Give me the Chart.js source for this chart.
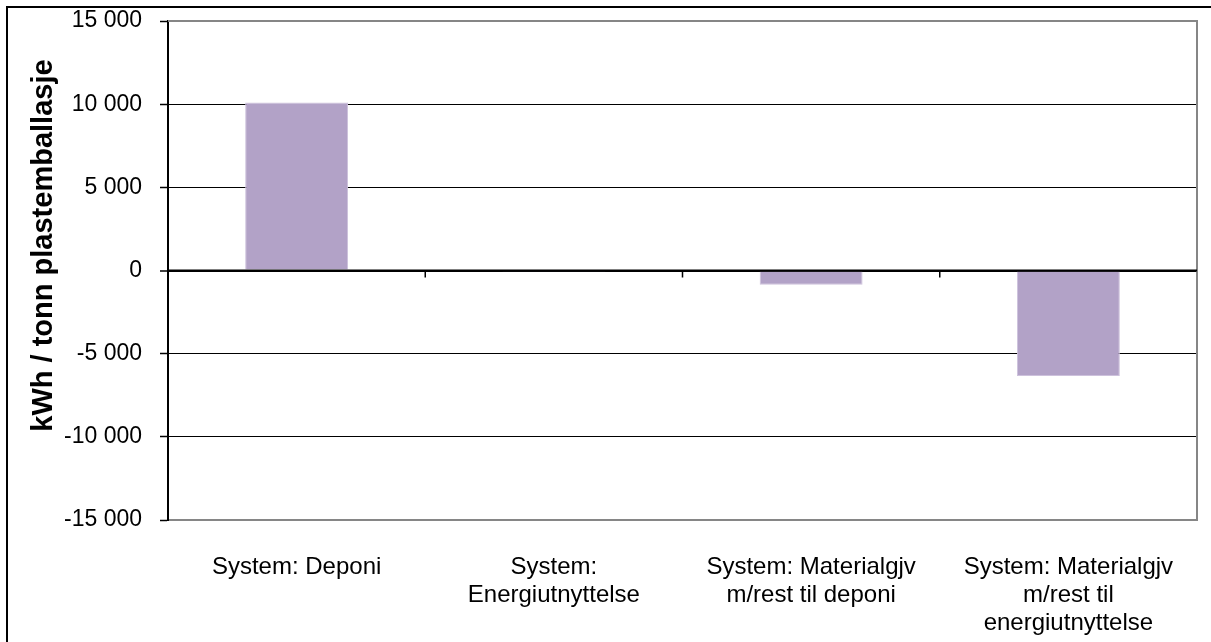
<!DOCTYPE html>
<html lang="no">
<head>
<meta charset="utf-8">
<title>Energibruk per tonn plastemballasje</title>
<script src="https://cdn.jsdelivr.net/npm/chart.js@4/dist/chart.umd.min.js"></script>
<style>
  html, body { margin: 0; padding: 0; background: #fff; overflow: hidden; }
  canvas { display: block; }
</style>
</head>
<body>
<canvas id="energyChart" width="1211" height="642"></canvas>
<script>
// Systemer og netto energi (kWh per tonn plastemballasje)
const systems = [
  ["System: Deponi"],
  ["System:", "Energiutnyttelse"],
  ["System: Materialgjv", "m/rest til deponi"],
  ["System: Materialgjv", "m/rest til", "energiutnyttelse"],
]
const energyValues = [10100, -50, -850, -6350]
const yTicks = [-15000, -10000, -5000, 0, 5000, 10000, 15000]
const yTitle = "kWh / tonn plastemballasje"

const axisFont = "'Liberation Sans', Arial, sans-serif"

function formatThousands(v) {
  const s = Math.abs(v).toString().replace(/\B(?=(\d{3})+(?!\d))/g, " ")
  return v < 0 ? "-" + s : s
}

// Outer frame, plot border, zero line, category ticks on the zero line and y title
const framePlugin = {
  id: "frame",
  beforeDatasetsDraw(chart) {
    const { ctx, chartArea } = chart
    ctx.save()
    ctx.strokeStyle = "#868686"
    ctx.lineWidth = 2
    ctx.beginPath()
    ctx.moveTo(chartArea.left, chartArea.top)
    ctx.lineTo(chartArea.right, chartArea.top)
    ctx.lineTo(chartArea.right, chartArea.bottom)
    ctx.stroke()
    ctx.restore()
  },
  afterDatasetsDraw(chart) {
    const { ctx, chartArea, scales } = chart
    const x = scales.x
    const y0 = scales.y.getPixelForValue(0)
    ctx.save()
    ctx.strokeStyle = "#000"
    ctx.lineWidth = 2
    ctx.beginPath()
    ctx.moveTo(chartArea.left, y0)
    ctx.lineTo(chartArea.right, y0)
    ctx.stroke()
    ctx.lineWidth = 1.5
    ctx.beginPath()
    for (let i = 1; i < systems.length; i++) {
      const bx = (x.getPixelForValue(i - 1) + x.getPixelForValue(i)) / 2
      ctx.moveTo(bx, y0)
      ctx.lineTo(bx, y0 + 7)
    }
    ctx.stroke()
    ctx.restore()
  },
  afterDraw(chart) {
    const { ctx, width, height, scales } = chart
    ctx.save()
    ctx.strokeStyle = "#000"
    ctx.lineWidth = 2
    ctx.beginPath()
    ctx.moveTo(7, height)
    ctx.lineTo(7, 7)
    ctx.lineTo(width, 7)
    ctx.stroke()

    // rotated y title, sitting a bit above the middle of the value axis
    const ty = scales.y.getPixelForValue(1500)
    ctx.translate(44, ty)
    ctx.rotate(-Math.PI / 2)
    ctx.fillStyle = "#000"
    ctx.font = "bold 29px " + axisFont
    ctx.textAlign = "center"
    ctx.textBaseline = "middle"
    ctx.fillText(yTitle, 0, 0)
    ctx.restore()
  },
}

new Chart(document.getElementById("energyChart"), {
  type: "bar",
  data: {
    labels: systems,
    datasets: [
      {
        label: yTitle,
        data: energyValues,
        backgroundColor: "#b2a2c7",
        borderColor: "#cdc1dc",
        borderWidth: 1,
        barPercentage: 0.4,
        categoryPercentage: 1,
      },
    ],
  },
  options: {
    responsive: false,
    animation: false,
    layout: {
      padding: { top: 21, right: 14, bottom: 0, left: 0 },
    },
    plugins: {
      legend: { display: false },
      tooltip: { enabled: false },
    },
    scales: {
      x: {
        grid: { display: false },
        border: { display: true, color: "#868686", width: 2 },
        ticks: {
          color: "#000",
          font: { family: axisFont, size: 24, lineHeight: 1.17 },
          padding: 25,
          maxRotation: 0,
          autoSkip: false,
        },
        afterFit(scale) {
          scale.height = 122
        },
      },
      y: {
        min: -15000,
        max: 15000,
        afterBuildTicks(scale) {
          scale.ticks = yTicks.map((v) => ({ value: v }))
        },
        grid: {
          color: (c) => (Math.abs(c.tick.value) === 15000 ? "#868686" : "#000"),
          lineWidth: (c) => (c.tick.value === 0 ? 2 : 1),
          tickColor: "#000",
          tickLength: 8,
          tickWidth: 1.5,
        },
        border: { display: true, color: "#000", width: 2 },
        ticks: {
          color: "#000",
          font: { family: axisFont, size: 23 },
          padding: 18,
          callback: (v) => formatThousands(v),
        },
        afterFit(scale) {
          scale.width = 168
          scale.paddingTop = 0
          scale.paddingBottom = 0
        },
      },
    },
  },
  plugins: [framePlugin],
})
</script>
</body>
</html>
